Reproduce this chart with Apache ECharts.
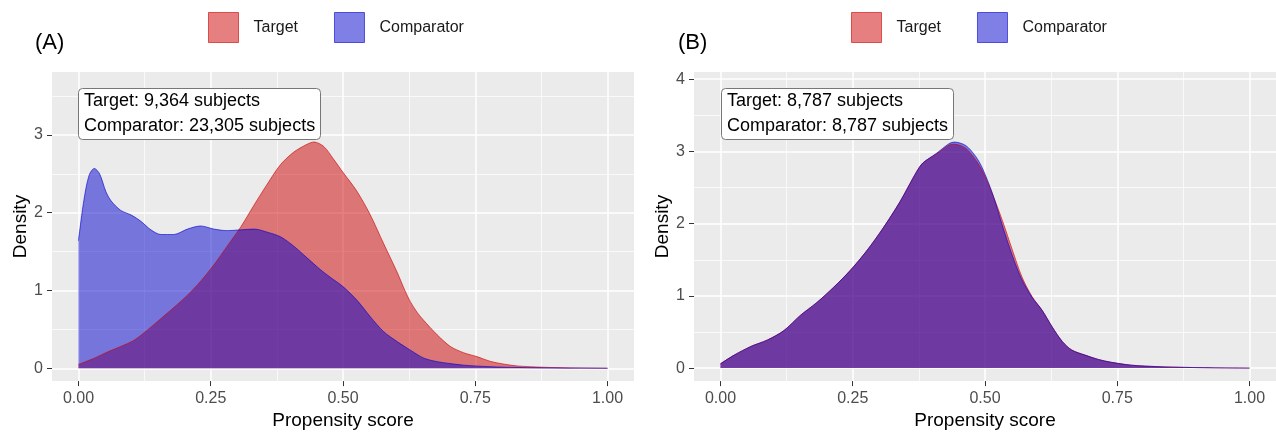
<!DOCTYPE html>
<html>
<head>
<meta charset="utf-8">
<script src="https://cdn.jsdelivr.net/npm/echarts@6/dist/echarts.min.js"></script>
<style>
  html, body { margin: 0; padding: 0; background: #fff; }
  #chart { width: 1276px; height: 435px; }
</style>
</head>
<body>
<div id="chart"></div>
<script>
// panel A (before matching)
var targetA_x = [0, 0.03, 0.055, 0.08, 0.105, 0.13, 0.156, 0.18, 0.206, 0.231, 0.256, 0.281, 0.307, 0.332, 0.357, 0.382, 0.407, 0.432, 0.445, 0.464, 0.482, 0.501, 0.526, 0.551, 0.577, 0.602, 0.617, 0.627, 0.64, 0.652, 0.678, 0.703, 0.728, 0.753, 0.778, 0.803, 0.829, 0.879, 0.93, 1.0];
var targetA_y = [0.05, 0.13, 0.21, 0.28, 0.36, 0.49, 0.64, 0.78, 0.94, 1.12, 1.33, 1.57, 1.82, 2.10, 2.37, 2.62, 2.78, 2.88, 2.91, 2.85, 2.69, 2.51, 2.28, 1.98, 1.60, 1.24, 1.0, 0.86, 0.72, 0.62, 0.43, 0.28, 0.20, 0.15, 0.09, 0.055, 0.03, 0.013, 0.005, 0];
var compA_x = [0, 0.01, 0.02, 0.03, 0.04, 0.052, 0.062, 0.08, 0.1, 0.118, 0.137, 0.156, 0.18, 0.206, 0.231, 0.256, 0.281, 0.307, 0.332, 0.357, 0.382, 0.407, 0.432, 0.457, 0.476, 0.5, 0.527, 0.552, 0.577, 0.603, 0.628, 0.653, 0.678, 0.703, 0.728, 0.778, 0.83, 0.9, 1.0];
var compA_y = [1.64, 2.15, 2.48, 2.57, 2.50, 2.27, 2.15, 2.03, 1.97, 1.89, 1.78, 1.72, 1.72, 1.79, 1.83, 1.79, 1.77, 1.78, 1.79, 1.75, 1.69, 1.57, 1.42, 1.27, 1.17, 1.05, 0.87, 0.66, 0.47, 0.34, 0.23, 0.13, 0.085, 0.06, 0.04, 0.02, 0.01, 0.004, 0];

// panel B (after matching)
var targetB_x = [0, 0.026, 0.0575, 0.089, 0.12, 0.151, 0.1825, 0.214, 0.245, 0.276, 0.3075, 0.339, 0.37, 0.3825, 0.4075, 0.4325, 0.442, 0.464, 0.4825, 0.495, 0.514, 0.533, 0.552, 0.57, 0.589, 0.608, 0.627, 0.646, 0.664, 0.689, 0.714, 0.739, 0.777, 0.827, 0.877, 0.95, 1.0];
var targetB_y = [0.06, 0.18, 0.30, 0.39, 0.52, 0.73, 0.91, 1.12, 1.35, 1.62, 1.94, 2.30, 2.71, 2.84, 2.96, 3.09, 3.10, 3.04, 2.88, 2.73, 2.41, 2.04, 1.63, 1.26, 0.99, 0.80, 0.57, 0.37, 0.25, 0.18, 0.12, 0.08, 0.04, 0.02, 0.01, 0.003, 0];
var compB_x = targetB_x;
var compB_y = [0.06, 0.18, 0.30, 0.39, 0.52, 0.73, 0.91, 1.12, 1.35, 1.62, 1.94, 2.30, 2.71, 2.84, 2.97, 3.11, 3.13, 3.08, 2.93, 2.77, 2.42, 1.97, 1.55, 1.22, 0.98, 0.80, 0.57, 0.37, 0.25, 0.18, 0.12, 0.08, 0.04, 0.02, 0.01, 0.003, 0];

var groups = ['Target', 'Comparator'];
var subjectsA = ['9,364', '23,305'];
var subjectsB = ['8,787', '8,787'];
var panelTags = ['(A)', '(B)'];
var xTicks = [0, 0.25, 0.5, 0.75, 1];
var xMinor = [0.125, 0.375, 0.625, 0.875];
var yTicksA = [0, 1, 2, 3];
var yTicksB = [0, 1, 2, 3, 4];
var yMinor = [0.5, 1.5, 2.5, 3.5];

var fills = ['rgba(205,0,0,0.5)', 'rgba(0,0,205,0.5)'];
var lines = ['rgba(205,0,0,0.6)', 'rgba(0,0,205,0.6)'];

function pairs(xs, ys) {
  return xs.map(function (x, i) { return [x, ys[i]]; });
}

var tickText = { color: '#4d4d4d', fontSize: 16, fontFamily: 'Liberation Sans' };
var nameText = { color: '#000', fontSize: 19, fontFamily: 'Liberation Sans' };

function xMajor(grid) {
  return {
    type: 'value', gridIndex: grid, min: -0.05, max: 1.05,
    name: 'Propensity score', nameLocation: 'middle', nameGap: 22, nameTextStyle: nameText,
    axisLine: { show: false, onZero: false },
    axisTick: { show: true, length: 5, lineStyle: { color: '#333' }, customValues: xTicks },
    axisLabel: Object.assign({ margin: 9, customValues: xTicks, formatter: function (v) { return v.toFixed(2); } }, tickText),
    splitLine: { show: true, lineStyle: { color: '#fff', width: 1.5 } }
  };
}
function xMinorAxis(grid) {
  return {
    type: 'value', gridIndex: grid, min: -0.05, max: 1.05, position: 'bottom',
    axisLine: { show: false, onZero: false },
    axisTick: { show: false, customValues: xMinor },
    axisLabel: { show: false, customValues: xMinor },
    splitLine: { show: true, lineStyle: { color: '#fff', width: 0.7 } }
  };
}
function yMajor(grid, mn, mx, ticks) {
  return {
    type: 'value', gridIndex: grid, min: mn, max: mx, position: 'left',
    name: 'Density', nameLocation: 'middle', nameGap: 22, nameTextStyle: nameText,
    axisLine: { show: false, onZero: false },
    axisTick: { show: true, length: 5, lineStyle: { color: '#333' }, customValues: ticks },
    axisLabel: Object.assign({ margin: 9, customValues: ticks }, tickText),
    splitLine: { show: true, lineStyle: { color: '#fff', width: 1.5 } }
  };
}
function yMinorAxis(grid, mn, mx) {
  return {
    type: 'value', gridIndex: grid, min: mn, max: mx, position: 'left',
    axisLine: { show: false, onZero: false },
    axisTick: { show: false, customValues: yMinor },
    axisLabel: { show: false, customValues: yMinor },
    splitLine: { show: true, lineStyle: { color: '#fff', width: 0.7 } }
  };
}

function area(name, k, xi, yi, data) {
  return {
    name: name, type: 'line', xAxisIndex: xi, yAxisIndex: yi,
    data: data, smooth: 0.3, symbol: 'none', silent: true,
    lineStyle: { color: lines[k], width: 1 },
    itemStyle: { color: fills[k] },
    areaStyle: { color: fills[k], opacity: 1 }
  };
}

function legendAt(left) {
  return {
    left: left, top: 12, padding: 0, icon: 'rect', itemWidth: 30, itemHeight: 30, itemGap: 36,
    selectedMode: false,
    textStyle: { fontSize: 16, color: '#1a1a1a', fontFamily: 'Liberation Sans', padding: [0, 0, 0, 10] },
    data: groups.map(function (g, k) {
      return { name: g, itemStyle: { color: fills[k], borderColor: lines[k], borderWidth: 1 } };
    })
  };
}

function labelBox(left, counts) {
  return {
    text: groups[0] + ': ' + counts[0] + ' subjects\n' + groups[1] + ': ' + counts[1] + ' subjects',
    left: left, top: 88,
    backgroundColor: '#fff', borderColor: '#777', borderWidth: 1, borderRadius: 4,
    padding: [1, 6],
    textStyle: { fontSize: 18, fontWeight: 'normal', lineHeight: 25, color: '#000', fontFamily: 'Liberation Sans' }
  };
}

function tag(text, left) {
  return { text: text, left: left, top: 32, padding: 0, textStyle: { fontSize: 22, fontWeight: 'normal', color: '#000', fontFamily: 'Liberation Sans' } };
}

var chart = echarts.init(document.getElementById('chart'), null, { renderer: 'canvas' });
chart.setOption({
  animation: false,
  backgroundColor: '#fff',
  title: [tag(panelTags[0], 35), tag(panelTags[1], 678), labelBox(78, subjectsA), labelBox(721, subjectsB)],
  legend: [legendAt(208), legendAt(851)],
  grid: [
    { left: 52, right: 642, top: 72, bottom: 50, show: true, backgroundColor: '#ebebeb', borderWidth: 0 },
    { left: 694, right: 0, top: 72, bottom: 50, show: true, backgroundColor: '#ebebeb', borderWidth: 0 }
  ],
  xAxis: [xMajor(0), xMinorAxis(0), xMajor(1), xMinorAxis(1)],
  yAxis: [yMajor(0, -0.165, 3.81, yTicksA), yMinorAxis(0, -0.165, 3.81), yMajor(1, -0.18, 4.1, yTicksB), yMinorAxis(1, -0.18, 4.1)],
  series: [
    area(groups[0], 0, 0, 0, pairs(targetA_x, targetA_y)),
    area(groups[1], 1, 0, 0, pairs(compA_x, compA_y)),
    area(groups[0], 0, 2, 2, pairs(targetB_x, targetB_y)),
    area(groups[1], 1, 2, 2, pairs(compB_x, compB_y))
  ]
});
</script>
</body>
</html>
